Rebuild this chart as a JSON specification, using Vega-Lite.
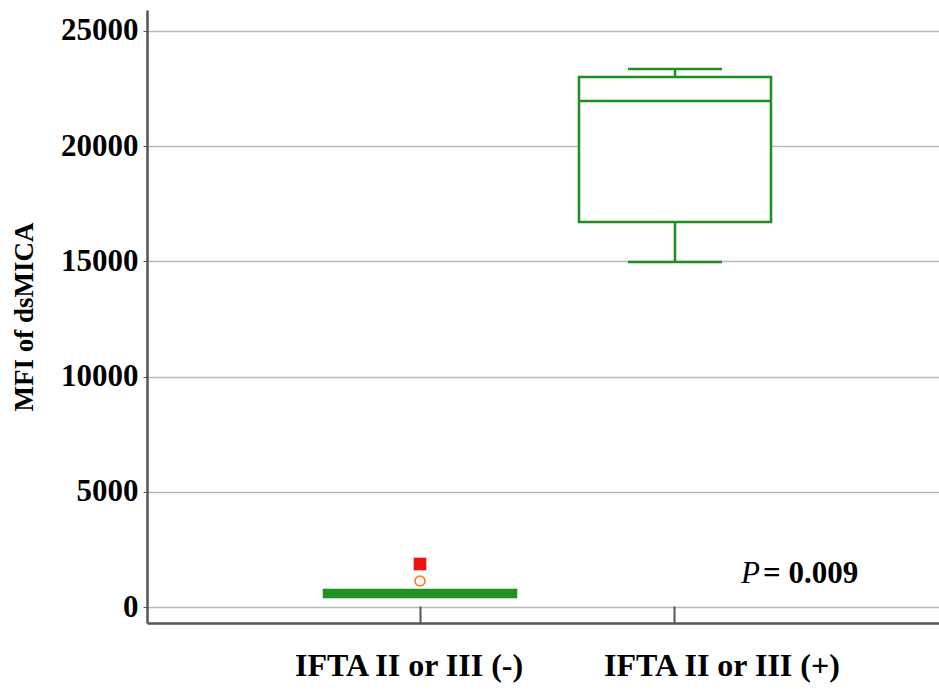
{
  "$schema": "https://vega.github.io/schema/vega-lite/v6.json",
  "width": 792,
  "height": 613,
  "autosize": {"type": "none"},
  "padding": {"left": 147, "top": 10, "right": 0, "bottom": 67},
  "background": "white",
  "config": {
    "view": {"stroke": null},
    "font": "Liberation Serif",
    "axis": {"labelFont": "Liberation Serif", "titleFont": "Liberation Serif", "labelColor": "black", "titleColor": "black"}
  },
  "datasets": {
    "boxes": [
      {"group": "IFTA II or III (-)", "lower": 434, "q1": 434, "median": 586, "q3": 738, "upper": 738},
      {"group": "IFTA II or III (+)", "lower": 14974, "q1": 16710, "median": 21962, "q3": 23003, "upper": 23351}
    ],
    "outliers": [
      {"group": "IFTA II or III (-)", "value": 1866, "kind": "extreme"},
      {"group": "IFTA II or III (-)", "value": 1128, "kind": "outside"}
    ],
    "note": [
      {"group": "IFTA II or III (+)", "value": 1040, "p": "P", "rest": "= 0.009"}
    ]
  },
  "encoding": {
    "x": {
      "field": "group", "type": "nominal",
      "sort": ["IFTA II or III (-)", "IFTA II or III (+)"],
      "scale": {"domain": ["IFTA II or III (-)", "IFTA II or III (+)"], "paddingInner": 0.25, "paddingOuter": 0.6956, "range": [0, 801]},
      "axis": {
        "title": null, "labelAngle": 0, "labelFontSize": 32, "labelFontWeight": "bold", "labelLimit": 0,
        "labelPadding": 44, "tickSize": -17, "tickColor": "#555", "tickWidth": 2,
        "domainColor": "#555", "domainWidth": 2.5, "grid": false,
        "labelOffset": {"condition": {"test": "datum.value === 'IFTA II or III (+)'", "value": 47}, "value": -11}
      }
    }
  },
  "layer": [
    {
      "data": {"name": "boxes"},
      "mark": {"type": "rule", "color": "#1f8f1f", "strokeWidth": 2.5},
      "encoding": {
        "y": {"field": "lower", "type": "quantitative",
          "scale": {"domain": [-694, 25911], "nice": false, "zero": false},
          "axis": {"title": "MFI of dsMICA", "titleFontSize": 27, "titleFontWeight": "bold", "titlePadding": 22,
            "values": [0, 5000, 10000, 15000, 20000, 25000], "format": "d",
            "labelFontSize": 31, "labelFontWeight": "bold", "labelPadding": 5,
            "tickSize": 4, "tickColor": "#555", "domainColor": "#555", "domainWidth": 2.5,
            "grid": true, "gridColor": "#b8b8b8", "gridWidth": 1.5}},
        "y2": {"field": "upper"}
      }
    },
    {
      "data": {"name": "boxes"},
      "mark": {"type": "bar", "stroke": "#1f8f1f", "strokeWidth": 2.5, "size": 192, "opacity": 1},
      "encoding": {
        "y": {"field": "q1", "type": "quantitative"},
        "y2": {"field": "q3"},
        "fill": {"condition": {"test": "datum.q3 - datum.q1 < 1000", "value": "#2a9a2a"}, "value": "white"}
      }
    },
    {
      "data": {"name": "boxes"},
      "mark": {"type": "tick", "color": "#1f8f1f", "size": 192, "thickness": 2.5, "opacity": 1},
      "encoding": {"y": {"field": "median", "type": "quantitative"}}
    },
    {
      "data": {"name": "boxes"},
      "transform": [{"filter": "datum.upper > datum.q3"}],
      "mark": {"type": "tick", "color": "#1f8f1f", "size": 94, "thickness": 2.5, "opacity": 1},
      "encoding": {"y": {"field": "upper", "type": "quantitative"}}
    },
    {
      "data": {"name": "boxes"},
      "transform": [{"filter": "datum.lower < datum.q1"}],
      "mark": {"type": "tick", "color": "#1f8f1f", "size": 94, "thickness": 2.5, "opacity": 1},
      "encoding": {"y": {"field": "lower", "type": "quantitative"}}
    },
    {
      "data": {"name": "outliers"},
      "transform": [{"filter": "datum.kind === 'extreme'"}],
      "mark": {"type": "square", "color": "#ee1111", "filled": true, "size": 160, "opacity": 1},
      "encoding": {"y": {"field": "value", "type": "quantitative"}}
    },
    {
      "data": {"name": "outliers"},
      "transform": [{"filter": "datum.kind === 'outside'"}],
      "mark": {"type": "point", "shape": "circle", "stroke": "#f0742a", "fill": "#fff4ee", "filled": false, "strokeWidth": 1.5, "size": 100, "opacity": 1},
      "encoding": {"y": {"field": "value", "type": "quantitative"}}
    },
    {
      "data": {"name": "note"},
      "mark": {"type": "text", "font": "Liberation Serif", "fontSize": 31, "fontStyle": "italic", "align": "right", "baseline": "alphabetic", "dx": 85, "color": "black"},
      "encoding": {"y": {"field": "value", "type": "quantitative"}, "text": {"field": "p"}}
    },
    {
      "data": {"name": "note"},
      "mark": {"type": "text", "font": "Liberation Serif", "fontSize": 31, "fontWeight": "bold", "align": "left", "baseline": "alphabetic", "dx": 88, "color": "black"},
      "encoding": {"y": {"field": "value", "type": "quantitative"}, "text": {"field": "rest"}}
    }
  ]
}
